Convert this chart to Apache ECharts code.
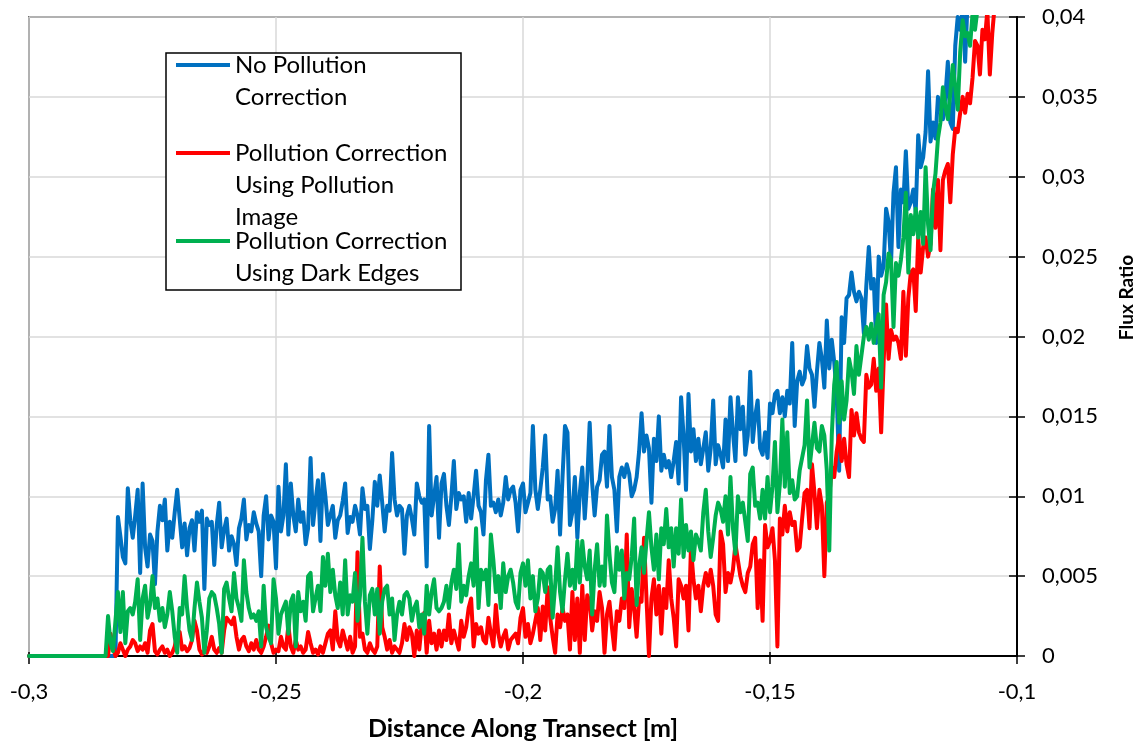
<!DOCTYPE html>
<html>
<head>
<meta charset="utf-8">
<title>Flux Ratio along transect</title>
<script src="https://cdn.jsdelivr.net/npm/echarts@6/dist/echarts.min.js"></script>
<style>
  html, body { margin: 0; padding: 0; background: #ffffff; }
  #chart { width: 1144px; height: 746px; }
</style>
</head>
<body>
<div id="chart"></div>
<script>
// Sampling of the transect: first sample position and spacing [m]
const xStart = -0.2845;
const xStep = 0.0005;
// Flat zero baseline before the first sample
const baselineStart = -0.3;

const seriesNames = [
  'No Pollution\nCorrection',
  'Pollution Correction\nUsing Pollution\nImage',
  'Pollution Correction\nUsing Dark Edges'
];
const seriesColors = ['#0070C0', '#FF0000', '#00B050'];

const xTickLabels = ['-0,3', '-0,25', '-0,2', '-0,15', '-0,1'];
const yTickLabels = ['0', '0,005', '0,01', '0,015', '0,02', '0,025', '0,03', '0,035', '0,04'];

// Flux ratio, no pollution correction
const noCorrection = [
  0, 0, 0, 0, 0, 0.0087, 0.0075, 0.0062, 0.0058, 0.0105,
  0.0085, 0.0074, 0.0088, 0.0104, 0.0052, 0.0108, 0.0068, 0.0056, 0.0076, 0.0072,
  0.0045, 0.0078, 0.0094, 0.0085, 0.0098, 0.0066, 0.0084, 0.0074, 0.0090, 0.0104,
  0.0086, 0.0068, 0.0083, 0.0063, 0.0080, 0.0085, 0.0066, 0.0090, 0.0084, 0.0091,
  0.0042, 0.0086, 0.0082, 0.0084, 0.0057, 0.0082, 0.0096, 0.0068, 0.0079, 0.0086,
  0.0066, 0.0075, 0.0070, 0.0057, 0.0080, 0.0086, 0.0098, 0.0073, 0.0082, 0.0078,
  0.0090, 0.0083, 0.0078, 0.0050, 0.0088, 0.0100, 0.0073, 0.0088, 0.0084, 0.0055,
  0.0106, 0.0078, 0.0088, 0.0120, 0.0076, 0.0108, 0.0088, 0.0078, 0.0098, 0.0084,
  0.0090, 0.0070, 0.0080, 0.0124, 0.0082, 0.0097, 0.0110, 0.0072, 0.0114, 0.0100,
  0.0082, 0.0088, 0.0094, 0.0074, 0.0085, 0.0088, 0.0097, 0.0108, 0.0077, 0.0087,
  0.0084, 0.0094, 0.0088, 0.0076, 0.0105, 0.0092, 0.0094, 0.0067, 0.0085, 0.0109,
  0.0094, 0.0113, 0.0096, 0.0078, 0.0094, 0.0091, 0.0127, 0.0098, 0.0088, 0.0094,
  0.0092, 0.0064, 0.0088, 0.0094, 0.0086, 0.0076, 0.0108, 0.0100, 0.0096, 0.0098,
  0.0056, 0.0144, 0.0088, 0.0100, 0.0112, 0.0074, 0.0108, 0.0114, 0.0094, 0.0082,
  0.0100, 0.0122, 0.0092, 0.0102, 0.0098, 0.0100, 0.0084, 0.0102, 0.0086, 0.0100,
  0.0116, 0.0094, 0.0090, 0.0076, 0.0110, 0.0126, 0.0094, 0.0096, 0.0090, 0.0098,
  0.0088, 0.0096, 0.0112, 0.0098, 0.0104, 0.0106, 0.0096, 0.0078, 0.0104, 0.0108,
  0.0090, 0.0096, 0.0102, 0.0144, 0.0104, 0.0092, 0.0104, 0.0118, 0.0138, 0.0098,
  0.0100, 0.0084, 0.0092, 0.0116, 0.0076, 0.0112, 0.0144, 0.0140, 0.0082, 0.0090,
  0.0112, 0.0074, 0.0102, 0.0118, 0.0086, 0.0110, 0.0146, 0.0108, 0.0088, 0.0106,
  0.0110, 0.0126, 0.0128, 0.0106, 0.0144, 0.0112, 0.0104, 0.0078, 0.0112, 0.0118,
  0.0112, 0.0120, 0.0114, 0.0100, 0.0104, 0.0112, 0.0128, 0.0152, 0.0128, 0.0138,
  0.0130, 0.0096, 0.0136, 0.0122, 0.0150, 0.0116, 0.0126, 0.0118, 0.0122, 0.0112,
  0.0122, 0.0134, 0.0108, 0.0162, 0.0138, 0.0104, 0.0164, 0.0128, 0.0142, 0.0122,
  0.0136, 0.0120, 0.0130, 0.0140, 0.0116, 0.0130, 0.0160, 0.0120, 0.0132, 0.0126,
  0.0118, 0.0148, 0.0122, 0.0162, 0.0140, 0.0122, 0.0162, 0.0142, 0.0156, 0.0126,
  0.0138, 0.0178, 0.0134, 0.0150, 0.0160, 0.0130, 0.0126, 0.0140, 0.0124, 0.0158,
  0.0152, 0.0164, 0.0166, 0.0152, 0.0162, 0.0150, 0.0166, 0.0158, 0.0196, 0.0144,
  0.0172, 0.0178, 0.0170, 0.0174, 0.0194, 0.0180, 0.0176, 0.0156, 0.0178, 0.0196,
  0.0186, 0.0168, 0.0210, 0.0180, 0.0198, 0.0184, 0.0164, 0.0116, 0.0212, 0.0196,
  0.0224, 0.0226, 0.0240, 0.0228, 0.0222, 0.0228, 0.0224, 0.0202, 0.0232, 0.0256,
  0.0230, 0.0236, 0.0196, 0.0250, 0.0238, 0.0244, 0.0280, 0.0272, 0.0246, 0.0290,
  0.0306, 0.0256, 0.0292, 0.0284, 0.0316, 0.0280, 0.0284, 0.0292, 0.0278, 0.0326,
  0.0306, 0.0312, 0.0328, 0.0366, 0.0322, 0.0334, 0.0324, 0.0350, 0.0344, 0.0336,
  0.0350, 0.0372, 0.0334, 0.0330, 0.0382, 0.0400, 0.0392, 0.0405, 0.0372, 0.0410,
  0.0415, 0.0420, 0.0428
];

// Flux ratio, pollution correction using the pollution image
const pollutionImage = [
  0, 0, 0.0014, 0.0006, 0, 0.0002, 0.0008, 0.0004, 0, 0.0004,
  0.0006, 0.0010, 0.0008, 0.0003, 0.0006, 0.0004, 0.0008, 0.0002, 0.0016, 0.0020,
  0.0003, 0.0001, 0.0004, 0.0006, 0.0002, 0.0004, 0, 0.0002, 0.0006, 0.0014,
  0.0015, 0.0004, 0.0006, 0.0003, 0.0005, 0.0010, 0.0022, 0.0016, 0.0004, 0.0001,
  0.0003, 0.0002, 0.0006, 0.0012, 0.0004, 0.0002, 0.0005, 0.0002, 0.0016, 0.0024,
  0.0022, 0.0020, 0.0024, 0.0012, 0.0004, 0.0010, 0.0012, 0.0006, 0.0003, 0.0008,
  0.0004, 0.0010, 0.0004, 0.0002, 0.0006, 0.0012, 0.0019, 0.0008, 0.0002, 0.0004,
  0.0003, 0.0012, 0.0006, 0.0004, 0.0019, 0.0006, 0.0002, 0.0010, 0.0004, 0.0006,
  0.0002, 0.0004, 0.0015, 0.0008, 0.0002, 0.0004, 0.0001, 0.0006, 0.0002, 0.0008,
  0.0014, 0.0016, 0.0004, 0.0028, 0.0010, 0.0006, 0.0016, 0.0010, 0.0004, 0.0012,
  0.0002, 0.0006, 0.0065, 0.0012, 0.0014, 0.0004, 0.0002, 0.0008, 0.0004, 0.0002,
  0.0006, 0.0056, 0.0018, 0.0012, 0.0004, 0.0010, 0.0002, 0.0006, 0.0004, 0.0002,
  0.0008, 0.0020, 0.0010, 0.0018, 0.0014, 0, 0.0016, 0.0004, 0.0020, 0.0027,
  0.0002, 0.0022, 0.0008, 0.0014, 0.0004, 0.0016, 0.0006, 0.0016, 0.0010, 0.0026,
  0.0008, 0.0016, 0.0010, 0.0004, 0.0022, 0.0012, 0.0018, 0.0030, 0.0036, 0.0006,
  0.0020, 0.0014, 0.0018, 0.0010, 0.0008, 0.0024, 0.0014, 0.0006, 0.0032, 0.0014,
  0.0006, 0.0012, 0.0016, 0.0004, 0.0010, 0.0012, 0.0014, 0.0008, 0.0024, 0.0030,
  0.0012, 0.0020, 0.0008, 0.0014, 0.0022, 0.0030, 0.0010, 0.0031, 0.0016, 0.0043,
  0.0024, 0.0012, 0.0002, 0.0026, 0.0018, 0.0030, 0.0022, 0.0026, 0.0004, 0.0040,
  0.0010, 0.0036, 0.0002, 0.0044, 0.0010, 0.0038, 0.0034, 0.0016, 0.0028, 0.0022,
  0.0040, 0.0030, 0.0002, 0.0026, 0.0034, 0.0018, 0.0004, 0.0028, 0.0022, 0.0036,
  0.0030, 0.0076, 0.0018, 0.0042, 0.0030, 0.0012, 0.0036, 0.0034, 0.0074, 0.0036,
  0, 0.0036, 0.0048, 0.0026, 0.0044, 0.0014, 0.0042, 0.0030, 0.0060, 0.0036,
  0.0024, 0.0006, 0.0048, 0.0044, 0.0036, 0.0044, 0.0016, 0.0068, 0.0048, 0.0036,
  0.0044, 0.0028, 0.0044, 0.0052, 0.0044, 0.0054, 0.0044, 0.0026, 0.0022, 0.0078,
  0.0070, 0.0040, 0.0052, 0.0046, 0.0054, 0.0070, 0.0060, 0.0050, 0.0044, 0.0040,
  0.0052, 0.0056, 0.0070, 0.0074, 0.0030, 0.0060, 0.0022, 0.0082, 0.0068, 0.0072,
  0.0080, 0.0060, 0.0006, 0.0086, 0.0076, 0.0094, 0.0078, 0.0090, 0.0082, 0.0084,
  0.0066, 0.0068, 0.0086, 0.0102, 0.0104, 0.0080, 0.0120, 0.0102, 0.0080, 0.0104,
  0.0094, 0.0050, 0.0096, 0.0100, 0.0118, 0.0112, 0.0128, 0.0138, 0.0122, 0.0136,
  0.0120, 0.0112, 0.0154, 0.0138, 0.0152, 0.0140, 0.0136, 0.0134, 0.0176, 0.0168,
  0.0170, 0.0186, 0.0166, 0.0180, 0.0140, 0.0184, 0.0220, 0.0186, 0.0204, 0.0198,
  0.0200, 0.0196, 0.0186, 0.0228, 0.0188, 0.0224, 0.0240, 0.0242, 0.0216, 0.0262,
  0.0240, 0.0256, 0.0262, 0.0250, 0.0258, 0.0292, 0.0268, 0.0298, 0.0254, 0.0298,
  0.0304, 0.0308, 0.0284, 0.0314, 0.0330, 0.0328, 0.0340, 0.0350, 0.0340, 0.0352,
  0.0346, 0.0362, 0.0385, 0.0382, 0.0364, 0.0392, 0.0386, 0.0404, 0.0364, 0.0390,
  0.0408, 0.0415
];

// Flux ratio, pollution correction using the dark edges
const darkEdges = [
  0, 0.0025, 0.0008, 0.0003, 0.0022, 0.0040, 0.0015, 0.0040, 0.0008, 0.0028,
  0.0030, 0.0026, 0.0034, 0.0048, 0.0010, 0.0036, 0.0044, 0.0024, 0.0032, 0.0050,
  0.0030, 0.0036, 0.0022, 0.0030, 0.0018, 0.0026, 0.0040, 0.0028, 0.0012, 0.0002,
  0.0030, 0.0026, 0.0050, 0.0030, 0.0016, 0.0010, 0.0030, 0.0046, 0.0034, 0.0024,
  0.0002, 0.0016, 0.0036, 0.0040, 0.0038, 0.0030, 0.0020, 0.0002, 0.0042, 0.0046,
  0.0036, 0.0028, 0.0052, 0.0036, 0.0030, 0.0022, 0.0060, 0.0040, 0.0030, 0.0024,
  0.0026, 0.0022, 0.0028, 0.0006, 0.0044, 0.0018, 0.0012, 0.0008, 0.0048, 0.0036,
  0.0014, 0.0026, 0.0030, 0.0034, 0.0014, 0.0034, 0.0038, 0.0006, 0.0040, 0.0028,
  0.0034, 0.0022, 0.0050, 0.0052, 0.0028, 0.0036, 0.0044, 0.0028, 0.0062, 0.0044,
  0.0064, 0.0040, 0.0054, 0.0038, 0.0030, 0.0046, 0.0026, 0.0060, 0.0026, 0.0038,
  0.0034, 0.0052, 0.0022, 0.0038, 0.0074, 0.0034, 0.0014, 0.0038, 0.0042, 0.0026,
  0.0042, 0.0014, 0.0034, 0.0042, 0.0044, 0.0026, 0.0036, 0.0010, 0.0026, 0.0034,
  0.0026, 0.0038, 0.0040, 0.0036, 0.0022, 0.0030, 0.0034, 0.0018, 0.0026, 0.0014,
  0.0044, 0.0026, 0.0040, 0.0048, 0.0030, 0.0028, 0.0030, 0.0034, 0.0044, 0.0030,
  0.0046, 0.0054, 0.0042, 0.0070, 0.0034, 0.0044, 0.0038, 0.0050, 0.0058, 0.0044,
  0.0080, 0.0030, 0.0054, 0.0048, 0.0054, 0.0032, 0.0076, 0.0060, 0.0040, 0.0050,
  0.0030, 0.0058, 0.0040, 0.0050, 0.0054, 0.0046, 0.0034, 0.0030, 0.0052, 0.0058,
  0.0044, 0.0060, 0.0036, 0.0050, 0.0028, 0.0036, 0.0054, 0.0052, 0.0040, 0.0054,
  0.0056, 0.0024, 0.0044, 0.0068, 0.0040, 0.0028, 0.0048, 0.0064, 0.0044, 0.0054,
  0.0042, 0.0072, 0.0046, 0.0072, 0.0056, 0.0048, 0.0066, 0.0026, 0.0054, 0.0070,
  0.0044, 0.0056, 0.0044, 0.0088, 0.0064, 0.0046, 0.0040, 0.0068, 0.0054, 0.0066,
  0.0036, 0.0052, 0.0048, 0.0062, 0.0086, 0.0032, 0.0056, 0.0068, 0.0052, 0.0072,
  0.0090, 0.0068, 0.0054, 0.0076, 0.0048, 0.0080, 0.0070, 0.0092, 0.0068, 0.0080,
  0.0056, 0.0080, 0.0064, 0.0098, 0.0062, 0.0082, 0.0066, 0.0078, 0.0060, 0.0076,
  0.0072, 0.0066, 0.0090, 0.0104, 0.0078, 0.0062, 0.0074, 0.0088, 0.0096, 0.0092,
  0.0084, 0.0100, 0.0076, 0.0112, 0.0080, 0.0064, 0.0100, 0.0090, 0.0096, 0.0084,
  0.0072, 0.0114, 0.0118, 0.0094, 0.0096, 0.0086, 0.0104, 0.0086, 0.0112, 0.0090,
  0.0106, 0.0134, 0.0090, 0.0108, 0.0148, 0.0106, 0.0140, 0.0102, 0.0110, 0.0098,
  0.0100, 0.0116, 0.0124, 0.0132, 0.0160, 0.0118, 0.0132, 0.0146, 0.0130, 0.0128,
  0.0144, 0.0138, 0.0116, 0.0066, 0.0138, 0.0170, 0.0184, 0.0146, 0.0172, 0.0148,
  0.0160, 0.0186, 0.0178, 0.0164, 0.0194, 0.0176, 0.0188, 0.0200, 0.0206, 0.0198,
  0.0208, 0.0196, 0.0206, 0.0214, 0.0168, 0.0226, 0.0234, 0.0252, 0.0248, 0.0206,
  0.0246, 0.0238, 0.0248, 0.0262, 0.0290, 0.0240, 0.0276, 0.0264, 0.0280, 0.0262,
  0.0278, 0.0258, 0.0306, 0.0270, 0.0254, 0.0290, 0.0302, 0.0324, 0.0334, 0.0356,
  0.0344, 0.0336, 0.0352, 0.0370, 0.0356, 0.0342, 0.0378, 0.0398, 0.0388, 0.0390,
  0.0382, 0.0402, 0.0392, 0.0405, 0.0412, 0.0420
];

const seriesValues = [noCorrection, pollutionImage, darkEdges];

// Pair each value with its position along the transect
function toPoints(values) {
  const pts = [[baselineStart, 0]];
  values.forEach((v, i) => {
    pts.push([+(xStart + i * xStep).toFixed(4), v]);
  });
  return pts;
}

const FONT = 'Lato, "Open Sans", sans-serif';

const chart = echarts.init(document.getElementById('chart'), null, { renderer: 'canvas' });

const legendTop = [49, 137, 225];
const legendGraphics = [
  {
    type: 'rect',
    shape: { x: 166, y: 53, width: 295, height: 237 },
    style: { fill: '#ffffff', stroke: '#000000', lineWidth: 1.5 },
    z: 100
  }
];
seriesNames.forEach((name, i) => {
  legendGraphics.push({
    type: 'line',
    shape: { x1: 176, y1: legendTop[i] + 16, x2: 230, y2: legendTop[i] + 16 },
    style: { stroke: seriesColors[i], lineWidth: 4 },
    z: 101
  });
  legendGraphics.push({
    type: 'text',
    x: 235,
    y: legendTop[i],
    style: {
      text: name,
      font: '24px ' + FONT,
      lineHeight: 32,
      fill: '#000000',
      verticalAlign: 'top'
    },
    z: 101
  });
});

const baseX = {
  type: 'value',
  min: -0.3,
  max: -0.1,
  interval: 0.05
};
const baseY = {
  type: 'value',
  min: 0,
  max: 0.04,
  interval: 0.005,
  position: 'right'
};

chart.setOption({
  animation: false,
  backgroundColor: '#ffffff',
  grid: {
    left: 29, right: 124, top: 17, bottom: 89,
    show: true,
    borderColor: '#000000',
    borderWidth: 1.5
  },
  xAxis: [
    Object.assign({}, baseX, {
      position: 'bottom',
      axisLine: { show: true, onZero: false, lineStyle: { color: '#000000', width: 2 } },
      axisTick: { show: true, length: 8, lineStyle: { color: '#000000', width: 1.5 } },
      axisLabel: {
        margin: 25,
        color: '#000000',
        fontSize: 22,
        fontFamily: FONT,
        formatter: (v, idx) => xTickLabels[idx]
      },
      splitLine: { show: true, lineStyle: { color: '#d9d9d9', width: 1.5 } },
      name: 'Distance Along Transect [m]',
      nameLocation: 'middle',
      nameGap: 60,
      nameTextStyle: { color: '#000000', fontSize: 25, fontWeight: 'bold', fontFamily: FONT }
    }),
    Object.assign({}, baseX, {
      position: 'bottom',
      axisLine: { show: false, onZero: false },
      axisTick: { show: true, inside: true, length: 4, lineStyle: { color: '#000000', width: 1.5 } },
      axisLabel: { show: false },
      splitLine: { show: false }
    })
  ],
  yAxis: [
    Object.assign({}, baseY, {
      axisLine: { show: true, onZero: false, lineStyle: { color: '#000000', width: 2 } },
      axisTick: { show: true, length: 8, lineStyle: { color: '#000000', width: 1.5 } },
      axisLabel: {
        margin: 25,
        color: '#000000',
        fontSize: 22,
        fontFamily: FONT,
        formatter: (v, idx) => yTickLabels[idx]
      },
      splitLine: { show: true, lineStyle: { color: '#d9d9d9', width: 1.5 } },
      name: 'Flux Ratio',
      nameLocation: 'middle',
      nameRotate: 90,
      nameGap: 100,
      nameTextStyle: {
        color: '#000000', fontSize: 19, fontWeight: 'bold', fontFamily: FONT,
        padding: [0, 0, 0, 78]
      }
    }),
    Object.assign({}, baseY, {
      axisLine: { show: false, onZero: false },
      axisTick: { show: true, inside: true, length: 8, lineStyle: { color: '#000000', width: 1.5 } },
      axisLabel: { show: false },
      splitLine: { show: false }
    })
  ],
  series: seriesValues.map((values, i) => ({
    name: seriesNames[i],
    type: 'line',
    xAxisIndex: 0,
    yAxisIndex: 0,
    data: toPoints(values),
    showSymbol: false,
    symbol: 'none',
    clip: true,
    lineStyle: { color: seriesColors[i], width: 4, join: 'round', cap: 'round' },
    itemStyle: { color: seriesColors[i] },
    z: 2 + i
  })),
  graphic: legendGraphics
});
</script>
</body>
</html>
